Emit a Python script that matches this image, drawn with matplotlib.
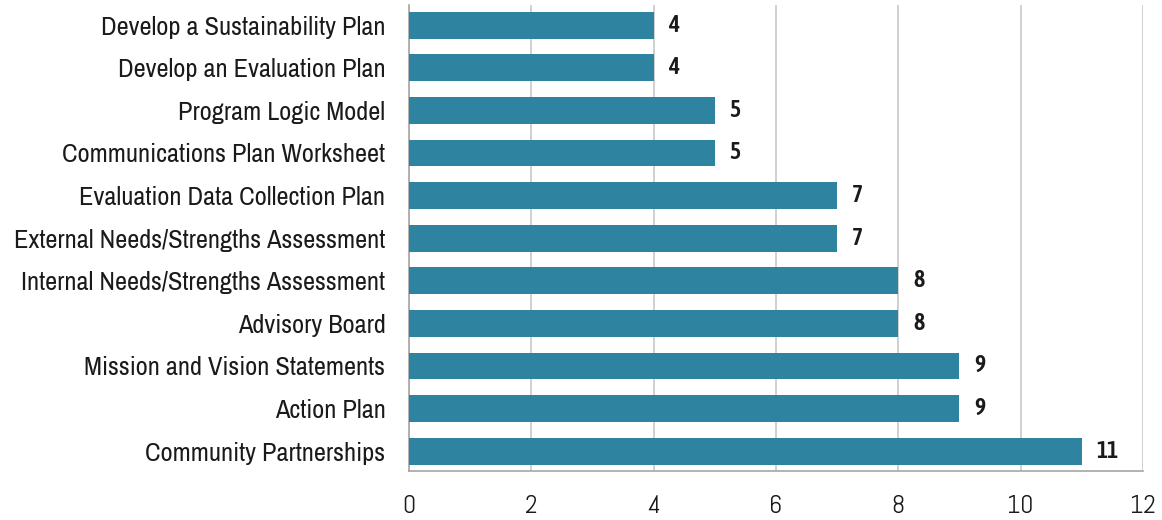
import matplotlib
matplotlib.use('Agg')
import matplotlib.pyplot as plt
from matplotlib import font_manager

names = {f.name for f in font_manager.fontManager.ttflist}


def pick(options):
    for o in options:
        if o in names:
            return [o, 'DejaVu Sans']
    return ['DejaVu Sans']


label_font = pick(['Liberation Sans Narrow', 'Arimo Narrow', 'Archivo Narrow',
                   'PT Sans Narrow', 'Roboto Condensed', 'Asap Condensed'])
num_font = pick(['Abel', 'Asap Condensed', 'Roboto Condensed'])
val_font = pick(['Asap Condensed', 'Roboto Condensed', 'Archivo Narrow'])

categories = ['Develop a Sustainability Plan', 'Develop an Evaluation Plan',
              'Program Logic Model', 'Communications Plan Worksheet',
              'Evaluation Data Collection Plan', 'External Needs/Strengths Assessment',
              'Internal Needs/Strengths Assessment', 'Advisory Board',
              'Mission and Vision Statements', 'Action Plan', 'Community Partnerships']
values = [4, 4, 5, 5, 7, 7, 8, 8, 9, 9, 11]
xticks = [0, 2, 4, 6, 8, 10, 12]

fig = plt.figure(figsize=(11.62, 5.2), dpi=100)
ax = fig.add_axes([0.352, 0.094, 0.6316, 0.896])

pos = list(range(len(categories)))
ax.barh(pos, values, height=0.63, color='#2e83a0', zorder=3)
for y, v in zip(pos, values):
    ax.text(v + 0.24, y, str(v), va='center', ha='left', fontsize=17,
            fontweight='semibold', color='#1a1a1a', family=val_font)

ax.set_ylim(len(categories) - 0.53, -0.47)
ax.set_xlim(0, 12)
ax.set_yticks(pos)
ax.set_yticklabels(categories, fontsize=19, color='#1a1a1a', family=label_font)
ax.set_xticks(xticks)
ax.set_xticklabels([str(t) for t in xticks], fontsize=18.5, color='#1a1a1a', family=num_font)
ax.tick_params(axis='y', length=0, pad=17)
ax.tick_params(axis='x', length=0, pad=17)
ax.grid(axis='x', color='#c8c8c8', linewidth=1.2, zorder=0)

for s in ['top', 'right']:
    ax.spines[s].set_visible(False)
for s in ['left', 'bottom']:
    ax.spines[s].set_color('#a6a6a6')
    ax.spines[s].set_linewidth(1.2)

fig.savefig('out.png', dpi=100)
